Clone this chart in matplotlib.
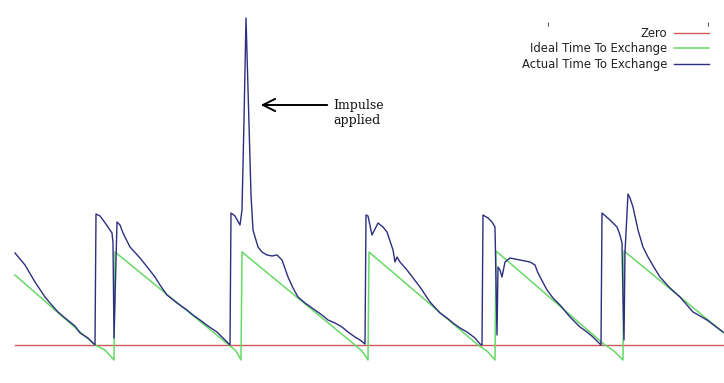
import matplotlib
matplotlib.use("Agg")
import matplotlib.pyplot as plt

# ---- data (time units ~ px, value units above the zero line) ----
zero_x = [15, 724]
zero_y = [0, 0]

ideal_x = [15, 95, 105, 114, 115, 229, 236, 241, 242, 355, 362, 368, 369,
           478, 487, 495, 496, 605, 614, 623, 624, 724]
ideal_y = [70, 0, -5, -15, 93, 0, -6, -15, 93, 0, -6, -15, 93,
           0, -6, -15, 94, 0, -6, -15, 94, 12]

actual_x = [15, 25, 35, 45, 50, 58, 65, 70, 75, 80, 88, 95, 96, 100, 103, 108, 112, 113,
            114, 115, 117, 120, 123, 130, 140, 148, 155, 160, 167, 177, 187, 193, 200,
            208, 217, 223, 229, 230, 231, 235, 240, 242, 244, 246, 248, 249.5, 251, 253,
            258, 262, 267, 272, 277, 282, 288, 293, 298, 305, 315, 322, 328, 335, 342, 348,
            355, 360, 365, 366, 368,
            372, 378, 383, 387, 393, 395, 397, 400, 407, 420, 430, 440, 447, 453, 460,
            467, 475, 480, 482, 483, 488, 492, 495, 496, 497, 498, 500, 502, 505, 510,
            520, 530, 535, 538, 547, 553, 560, 570, 575, 580, 587, 593, 600, 601, 602,
            610, 617, 620, 622, 623, 624, 625, 628, 630, 633, 638, 643, 648, 655, 660,
            670, 680, 687, 693, 700, 707, 715, 723]
actual_y = [92, 80, 63, 48, 42, 33, 27, 23, 19, 12, 7, 0, 131, 129, 125, 118, 112, 102,
            7, 45, 123, 120, 112, 98, 87, 77, 68, 60, 50, 42, 35, 30, 25,
            19, 13, 7, 1, 0, 132, 129, 120, 135, 225, 327, 255, 200, 150, 115,
            98, 93, 90, 89, 90, 85, 68, 57, 48, 42, 35, 30, 25, 22, 18, 13,
            8, 5, 1, 130, 129,
            110, 122, 118, 113, 95, 83, 88, 83, 75, 58, 43, 32, 27, 22, 17,
            13, 7, 1, 0, 130, 127, 123, 118, 65, 10, 78, 75, 68, 83, 87,
            85, 83, 80, 72, 55, 47, 40, 28, 23, 18, 13, 8, 1, 0, 132,
            125, 118, 110, 102, 45, 5, 93, 151, 147, 138, 115, 98, 88, 76, 68,
            57, 48, 40, 33, 29, 25, 19, 13]

legend_labels = ["Zero", "Ideal Time To Exchange", "Actual Time To Exchange"]
annotation_text = "Impulse\napplied"
impulse_point = (258, 240)
annotation_text_pos = (333, 232)
stray_tick_x = [548, 708]
stray_tick_y = [321, 321]

# ---- figure ----
fig = plt.figure(figsize=(7.24, 3.83), dpi=100)
ax = fig.add_axes([0, 0, 1, 1])
ax.set_xlim(0, 724)
ax.set_ylim(-38, 345)
ax.axis("off")

l0, = ax.plot(zero_x, zero_y, color="#cc5a5a", lw=1.0)
l1, = ax.plot(ideal_x, ideal_y, color="#66d966", lw=1.1)
l2, = ax.plot(actual_x, actual_y, color="#2e2e80", lw=1.0)

ax.plot(stray_tick_x, stray_tick_y, linestyle="none", marker="|",
        markersize=3, color="#555555", mew=0.8)

leg = ax.legend([l0, l1, l2], legend_labels, loc="upper right",
                bbox_to_anchor=(709 / 724, 1 - 27 / 383), frameon=False,
                markerfirst=False, fontsize=8.4, handlelength=3.0,
                handletextpad=0.6, labelspacing=0.2, borderpad=0,
                borderaxespad=0)
for t in leg.get_texts():
    t.set_color("#222222")

ax.annotate("", xy=impulse_point, xytext=(330, 240),
            arrowprops=dict(arrowstyle="->", color="black", lw=1.4,
                            mutation_scale=22))
ax.text(annotation_text_pos[0], annotation_text_pos[1], annotation_text,
        family="DejaVu Serif", fontsize=9, va="center", ha="left",
        linespacing=1.15, color="#111111")

fig.savefig("out.png", dpi=100)
